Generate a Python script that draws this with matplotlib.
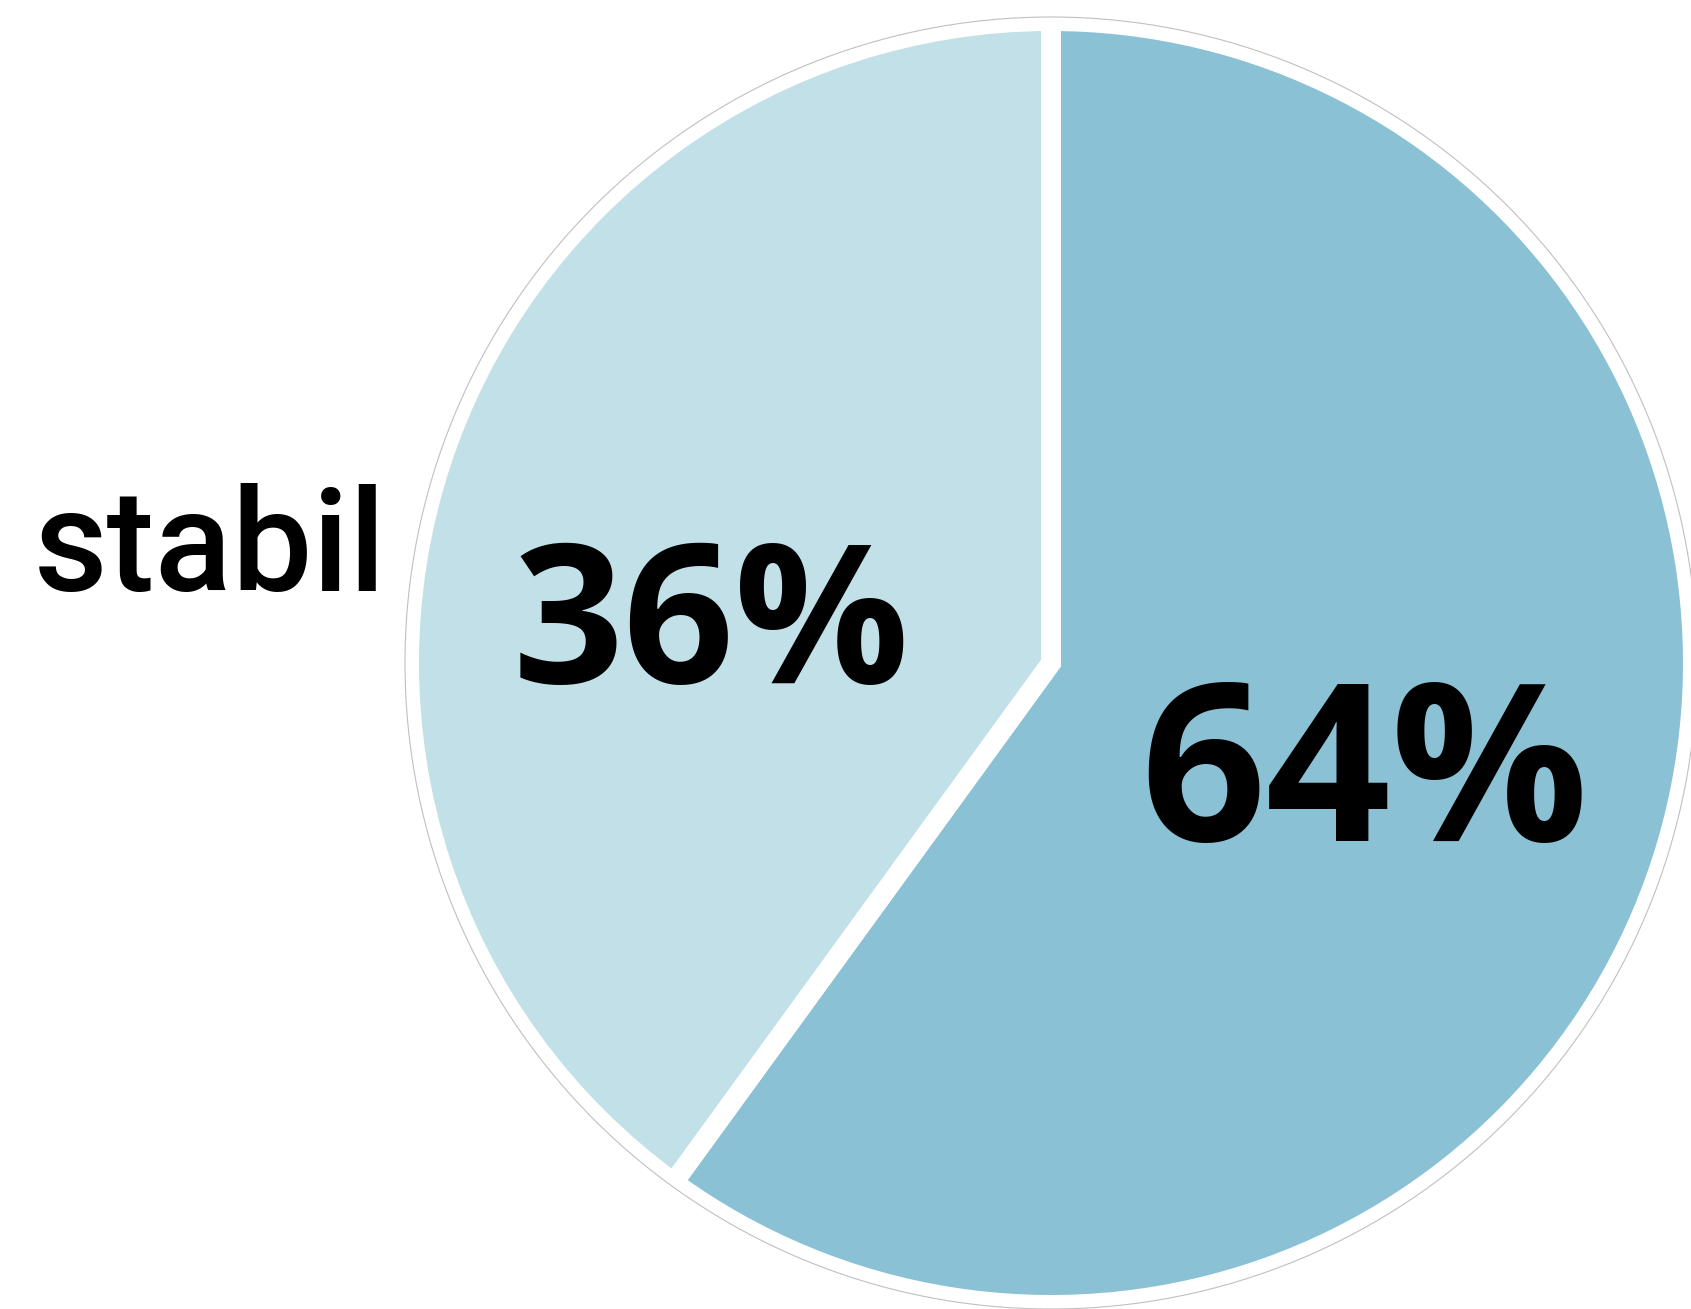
import matplotlib
matplotlib.use("Agg")
import matplotlib.pyplot as plt

# slice shares as drawn (clockwise from top) and the printed labels
shares = [60, 40]
pct_labels = ["64%", "36%"]
colors = ["#8AC1D5", "#C1E0E7"]
side_label = "stabil"

fig = plt.figure(figsize=(16.91, 13.09), dpi=100)
ax = fig.add_axes([0, 0, 1, 1])

cx, cy = 1051, 646
wedges, _ = ax.pie(shares, colors=colors, startangle=90, counterclock=False,
                   center=(cx, cy), radius=642, frame=True,
                   wedgeprops=dict(edgecolor="white", linewidth=14.4))
ax.set_xlim(0, 1691)
ax.set_ylim(0, 1309)
ax.set_aspect("equal")
ax.axis("off")

# thin grey outline round the pie
ax.add_patch(plt.Circle((cx, cy), 646, fill=False, edgecolor="#c0c0c0", lw=0.8, zorder=5))

ax.text(1364, 468, pct_labels[0], ha="center", va="baseline", fontsize=158,
        fontfamily="Open Sans", fontweight="bold", color="black")
ax.text(711, 626, pct_labels[1], ha="center", va="baseline", fontsize=140,
        fontfamily="Open Sans", fontweight="bold", color="black")
ax.text(210, 718, side_label, ha="center", va="baseline", fontsize=103,
        fontfamily="Roboto", fontweight="medium", color="black")

fig.savefig("out.png", dpi=100)
